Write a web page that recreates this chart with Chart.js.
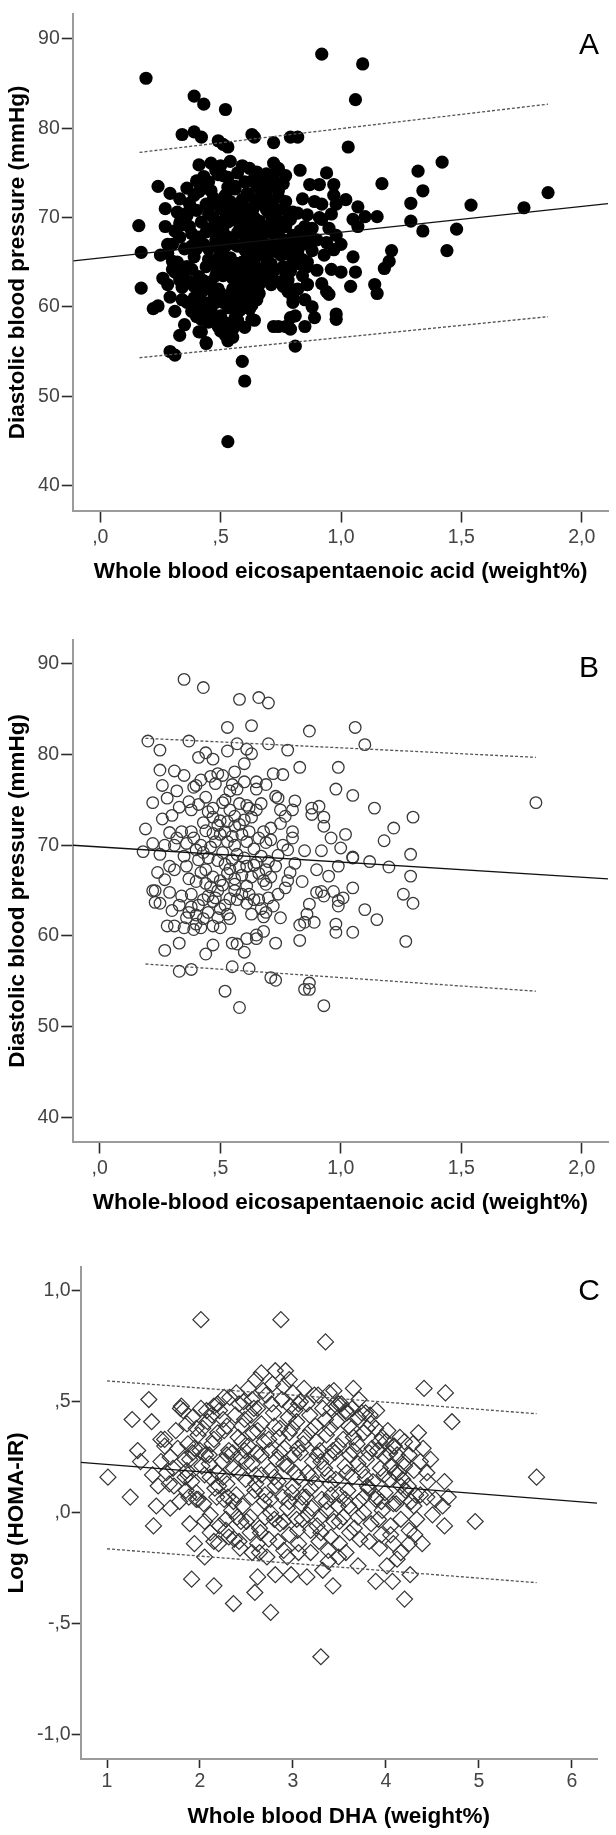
<!DOCTYPE html>
<html>
<head>
<meta charset="utf-8">
<script src="https://cdn.jsdelivr.net/npm/chart.js@4.4.1/dist/chart.umd.min.js"></script>
<style>
  html, body { margin: 0; padding: 0; background: #fff; }
  body { width: 616px; height: 1835px; position: relative; overflow: hidden; }
  canvas { position: absolute; left: 0; }
</style>
</head>
<body>
<canvas id="cA" width="616" height="600" style="top:0px;width:616px;height:600px"></canvas>
<canvas id="cB" width="616" height="600" style="top:626px;width:616px;height:600px"></canvas>
<canvas id="cC" width="616" height="581" style="top:1254px;width:616px;height:581px"></canvas>
<script>
// ---------------- DATA ----------------
// Panel A: whole blood EPA vs diastolic BP (filled circles)
const panelA_points = [
[0.19,85.6],[0.92,88.3],[1.09,87.2],[0.39,83.6],[0.43,82.7],[0.52,82.1],[1.06,83.2],[1.03,77.9],[0.34,79.3],[0.39,79.6],
[0.42,79.0],[0.49,78.6],[0.51,78.2],[0.53,77.9],[0.63,79.3],[0.64,79.0],[0.72,78.4],[0.79,79.0],[0.82,79.0],[1.42,76.2],
[1.32,75.2],[1.34,73.0],[1.29,71.6],[1.29,69.6],[1.34,68.5],[1.44,66.3],[1.48,68.7],[1.54,71.4],[1.76,71.1],[1.86,72.8],
[1.17,73.8],[1.15,70.1],[1.10,70.1],[1.07,71.2],[1.05,69.8],[1.07,69.0],[1.05,65.6],[1.06,63.9],[1.04,62.3],[1.14,62.5],
[1.15,61.5],[1.18,64.3],[1.20,65.1],[1.21,66.3],[1.00,63.9],[0.98,59.2],[0.98,58.6],[0.94,61.7],[0.95,61.4],[0.97,66.4],
[0.94,67.2],[0.96,64.2],[0.97,72.5],[0.91,73.7],[0.87,73.7],[0.97,73.7],[0.92,71.5],[0.91,70.0],[0.92,69.8],[0.96,70.4],
[0.98,71.5],[0.89,58.8],[0.85,57.8],[0.90,64.1],[0.86,62.5],[0.86,64.5],[0.84,65.3],[0.86,67.2],[0.87,68.2],[0.88,68.8],
[0.84,72.1],[0.83,75.3],[0.77,74.7],[0.72,76.1],[0.74,72.3],[0.71,73.5],[0.69,74.9],[0.65,75.1],[0.63,74.1],[0.59,75.8],
[0.61,72.7],[0.56,73.2],[0.54,76.3],[0.51,74.7],[0.48,75.3],[0.46,76.1],[0.41,75.9],[0.43,73.3],[0.40,74.1],[0.36,73.3],
[0.33,72.1],[0.29,72.7],[0.24,73.5],[0.36,70.2],[0.33,69.4],[0.27,69.0],[0.16,69.1],[0.17,66.1],[0.17,62.1],[0.25,65.8],
[0.28,67.0],[0.30,65.1],[0.31,63.9],[0.29,61.1],[0.31,59.5],[0.22,59.8],[0.24,60.1],[0.33,56.8],[0.29,55.0],[0.31,54.6],
[0.41,57.2],[0.44,55.9],[0.50,57.3],[0.53,56.2],[0.55,56.6],[0.55,58.2],[0.59,53.9],[0.60,51.7],[0.53,44.9],[0.60,57.7],
[0.63,58.6],[0.62,59.8],[0.59,61.5],[0.63,62.7],[0.66,62.9],[0.68,64.3],[0.69,64.7],[0.71,62.7],[0.72,62.9],[0.76,62.3],
[0.78,61.7],[0.80,61.1],[0.80,61.9],[0.72,57.8],[0.74,57.8],[0.77,57.8],[0.79,58.8],[0.79,57.5],[0.81,55.6],
[0.36,70.5],[0.38,68.2],[0.40,66.5],[0.38,64.2],[0.37,62.8],[0.39,61.0],[0.41,60.2],[0.40,58.9],[0.42,57.2],[0.44,56.0],
[0.43,59.5],[0.45,62.0],[0.44,64.5],[0.43,67.0],[0.42,69.5],[0.44,71.5],[0.46,73.0],[0.47,70.0],[0.48,67.5],[0.47,65.0],
[0.46,62.8],[0.48,60.5],[0.47,58.8],[0.50,59.0],[0.50,61.5],[0.51,63.5],[0.50,66.0],[0.51,68.5],[0.50,71.0],[0.52,72.5],
[0.49,74.8],[0.53,74.5],[0.54,71.8],[0.55,69.8],[0.53,67.8],[0.54,65.5],[0.55,63.2],[0.53,61.2],[0.56,60.0],[0.52,58.2],
[0.55,57.5],[0.57,58.5],[0.58,61.0],[0.57,62.5],[0.58,64.5],[0.57,66.8],[0.58,68.8],[0.57,70.8],[0.59,72.0],[0.56,73.5],
[0.60,74.0],[0.61,71.0],[0.62,69.2],[0.60,67.2],[0.61,65.5],[0.62,63.8],[0.60,62.5],[0.63,61.5],[0.62,59.8],[0.64,58.5],
[0.65,60.8],[0.66,62.5],[0.64,64.8],[0.65,66.5],[0.66,68.0],[0.64,70.0],[0.66,71.8],[0.65,73.5],[0.68,74.2],[0.69,72.5],
[0.70,70.5],[0.68,69.0],[0.69,67.0],[0.70,65.0],[0.68,63.5],[0.71,62.5],[0.72,64.0],[0.73,66.2],[0.72,68.2],[0.73,70.0],
[0.71,71.5],[0.74,73.0],[0.75,69.5],[0.76,67.5],[0.75,65.8],[0.77,63.8],[0.78,66.8],[0.79,69.8],[0.80,70.6],[0.81,66.5],
[0.79,64.0],[0.82,62.0],[0.80,60.5],[0.78,57.8],[0.81,59.0],[0.83,68.5],[0.84,67.0],[0.85,69.0],[0.86,65.0],[0.84,63.5],
[0.86,62.5],[0.82,70.5],[0.77,71.8],[0.76,73.8],[0.74,75.5],
[0.30,67.0],[0.32,65.0],[0.33,63.0],[0.34,62.2],[0.35,66.5],[0.34,69.2],[0.30,64.2],[0.28,66.0],[0.31,68.5],[0.36,60.5],
[0.35,58.0],[0.52,64.5],[0.56,67.0],[0.59,65.0],[0.63,67.0],[0.53,69.5],[0.49,68.0],[0.48,63.5],[0.60,69.8],[0.67,65.8],
[0.55,62.0],[0.57,64.0],[0.62,66.0],[0.45,66.5],[0.46,68.8],[0.52,66.8],[0.58,70.0],[0.61,68.0],[0.64,62.0],[0.51,60.5],
[0.49,65.5],
[0.40,70.8],[0.41,67.8],[0.39,65.6],[0.41,63.4],[0.42,61.6],[0.44,60.4],[0.43,62.9],[0.45,65.3],[0.44,68.4],[0.45,70.4],
[0.47,72.2],[0.46,71.4],[0.48,69.3],[0.49,66.7],[0.48,64.6],[0.49,62.0],[0.47,60.9],[0.50,64.3],[0.51,65.9],[0.50,67.3],
[0.52,69.9],[0.51,71.9],[0.53,73.4],[0.54,70.6],[0.55,67.2],[0.54,63.6],[0.56,61.7],[0.53,59.9],[0.55,60.8],[0.57,60.3],
[0.58,62.8],[0.56,64.9],[0.57,68.3],[0.58,71.3],[0.59,69.5],[0.60,66.4],[0.59,63.6],[0.61,61.3],[0.61,64.2],[0.62,67.4],
[0.63,70.6],[0.62,72.4],[0.64,71.2],[0.63,68.7],[0.64,66.2],[0.65,63.7],[0.66,61.5],[0.67,63.2],[0.67,67.3],[0.66,69.6],
[0.67,72.8],[0.69,70.9],[0.69,68.4],[0.70,66.2],[0.70,63.6],[0.71,64.8],[0.72,66.8],[0.71,69.4],[0.72,71.1],[0.73,73.9],
[0.74,70.8],[0.74,68.3],[0.75,67.0],[0.76,64.5],[0.75,62.8],[0.77,66.0],[0.77,69.0],[0.78,70.6],[0.78,63.0],[0.80,65.3],
[0.80,68.0],[0.82,67.7],[0.83,64.8],[0.82,66.2],[0.38,66.8],[0.37,69.0],[0.36,64.5],[0.39,62.3],[0.40,59.8],[0.42,58.6],
[0.45,58.3],[0.46,59.7],[0.49,57.8],[0.52,56.8],[0.58,59.6],[0.60,60.6],[0.63,60.2],[0.56,58.8],[0.43,74.6],[0.50,75.8],
[0.57,75.0],[0.62,75.5],[0.66,74.4],[0.70,73.8],[0.72,74.8],[0.45,74.0],[0.39,72.5],[0.41,72.9],[0.37,71.6],[0.35,64.0],
[0.33,67.8],[0.32,70.6],[0.27,71.0],[0.26,63.2],[0.28,62.5],[0.34,60.8],[0.38,59.5],[0.86,70.3],[0.88,66.3],[0.90,67.5],
[0.89,71.8],[0.93,65.8],[0.85,60.8],[0.88,60.0],[0.92,62.6],[0.95,68.8],[0.94,75.0],[0.98,68.0],[1.00,67.0],[1.02,72.0]
];
const panelA_fitX = [-0.112, 2.109];
const panelA_fitY = [65.16, 71.57];
const panelA_upperX = [0.163, 1.86];
const panelA_upperY = [77.3, 82.7];
const panelA_lowerX = [0.163, 1.86];
const panelA_lowerY = [54.3, 58.9];

// Panel B: whole-blood EPA vs diastolic BP (open circles)
const panelB_points = [
[0.35,88.3],[0.43,87.4],[0.58,86.1],[0.66,86.3],[0.70,85.7],[0.87,82.6],[1.06,83.0],[1.10,81.1],[0.20,81.5],[0.25,80.5],
[0.25,78.3],[0.41,79.7],[0.44,80.2],[0.47,79.5],[0.49,77.9],[0.53,80.4],[0.57,81.2],[0.60,79.0],[0.61,80.6],[0.63,80.1],
[0.56,78.1],[0.55,76.7],[0.57,76.2],[0.60,77.0],[0.65,77.0],[0.65,76.2],[0.70,81.2],[0.72,77.9],[0.76,77.8],[0.78,80.5],
[0.83,78.6],[0.74,75.2],[0.75,73.9],[0.81,74.9],[0.88,74.1],[0.91,74.3],[0.93,73.1],[0.93,72.1],[0.96,70.8],[0.92,69.4],
[0.88,73.4],[0.99,78.6],[0.98,76.2],[1.05,75.5],[1.14,74.1],[1.02,71.2],[1.00,69.7],[1.05,68.7],[1.05,68.6],[1.18,70.5],
[1.20,67.6],[1.29,69.0],[1.30,73.1],[1.29,66.6],[1.26,64.6],[1.30,63.6],[1.27,59.4],[1.15,61.8],[1.05,65.3],[1.05,60.4],
[1.01,64.2],[0.99,63.9],[0.99,63.3],[0.98,61.3],[0.98,60.4],[0.99,67.7],[0.92,64.9],[0.90,64.8],[0.93,64.4],[0.87,63.5],
[0.86,62.4],[0.89,61.5],[0.85,61.5],[0.83,61.2],[0.83,59.5],[0.87,54.8],[0.87,54.1],[0.85,54.1],[0.93,52.3],[0.73,59.2],
[0.71,55.4],[0.73,55.1],[0.60,58.2],[0.61,59.7],[0.55,59.2],[0.57,59.1],[0.55,56.6],[0.52,53.9],[0.58,52.1],[0.65,60.1],
[0.65,59.7],[0.68,60.5],[0.68,62.1],[0.69,62.6],[0.47,59.0],[0.47,61.1],[0.50,60.9],[0.54,61.9],[0.33,59.2],[0.33,56.1],
[0.38,56.3],[0.28,61.1],[0.31,61.1],[0.35,60.9],[0.39,60.7],[0.40,61.3],[0.42,60.9],[0.30,62.8],[0.25,63.6],[0.23,63.7],
[0.23,65.0],[0.22,65.0],[0.24,67.0],[0.19,71.8],[0.18,69.3],[0.22,74.7],[0.26,72.9],[0.30,73.3],[0.28,75.2],[0.32,76.0],
[0.35,77.7],[0.39,76.4],[0.40,76.6],[0.37,74.8],[0.38,73.9],[0.44,75.3],[0.45,73.7],[0.47,73.1],[0.51,74.7],[0.52,75.0],
[0.54,73.9],[0.56,73.2],[0.61,74.4],[0.62,74.1],[0.63,73.1],[0.65,73.9],[0.71,71.9],[0.71,70.6],[0.69,70.3],[0.80,71.5],
[0.80,70.8],[0.78,69.5],[0.81,68.0],[0.79,67.0],[0.78,66.1],[0.77,65.3],[0.74,64.6],[0.74,68.9],[0.73,67.7],[0.71,66.5],
[0.69,65.7],[0.68,66.1],[0.66,64.0],[0.64,64.0],[0.61,63.6],[0.59,64.6],[0.56,65.7],[0.54,64.1],[0.52,63.4],[0.50,63.0],
[0.47,63.8],[0.45,64.4],[0.43,64.0],[0.41,63.4],[0.38,63.2],[0.38,64.6],[0.37,62.6],[0.40,62.3],[0.34,64.4],[0.31,67.3],
[0.29,67.7],[0.27,70.0],[0.31,70.0],[0.32,70.8],[0.34,71.5],[0.38,71.5],[0.39,70.8],[0.42,70.0],[0.43,69.2],[0.41,68.4],
[0.36,67.7],[0.35,68.8],[0.47,71.3],[0.48,70.4],[0.50,71.2],[0.52,71.5],[0.53,70.4],[0.51,69.2],[0.49,68.3],[0.52,67.9],
[0.55,68.4],[0.56,70.0],[0.59,71.2],[0.61,70.4],[0.64,69.6],[0.66,70.8],[0.68,71.5],[0.65,68.1],[0.61,67.7],[0.59,66.7],
[0.56,66.3],[0.53,66.9],[0.50,66.1],[0.47,66.5],[0.44,67.3],[0.46,65.4],[0.49,65.0],[0.56,65.0],[0.61,65.5],[0.63,66.5],
[0.66,66.9],[0.69,67.3],[0.58,72.3],[0.56,72.1],[0.50,72.7],[0.47,74.1],[0.54,76.0],[0.51,77.7],[0.73,75.4],[0.80,73.9],
[1.81,74.7],
[0.42,67.0],[0.45,68.6],[0.46,69.8],[0.44,71.6],[0.49,72.2],[0.53,72.6],[0.55,71.0],[0.57,69.0],[0.54,67.4],[0.51,65.6],
[0.48,64.2],[0.44,65.8],[0.40,66.0],[0.37,66.3],[0.36,70.2],[0.40,69.5],[0.43,72.5],[0.41,74.5],[0.48,76.8],[0.58,74.6],
[0.60,72.8],[0.62,71.5],[0.60,68.6],[0.58,67.6],[0.57,64.0],[0.53,62.4],[0.49,62.0],[0.45,62.6],[0.43,61.9],[0.36,62.0],
[0.33,63.4],[0.29,64.8],[0.27,66.2],[0.25,69.0],[0.22,70.2],[0.29,71.4],[0.33,74.2],[0.63,62.4],[0.67,63.0],[0.70,64.2],
[0.72,63.3],[0.75,62.0],[0.76,70.0],[0.75,72.4],[0.67,68.8],[0.70,68.2],[0.64,67.8],[0.62,64.6],[0.67,74.6],[0.69,76.7],
[0.46,77.6],[0.42,77.2],[0.26,76.6],[0.31,78.2],[0.37,81.5],[0.53,83.0],[0.63,83.2],[0.77,73.2],[0.85,69.4],[0.84,66.0],
[0.90,67.3],[0.95,66.6],[0.97,64.9],[1.10,62.9],[1.12,68.2],[1.22,71.9],[0.27,58.4],[0.44,58.0],[0.62,56.4]
];
const panelB_fitX = [-0.112, 2.109];
const panelB_fitY = [70.0, 66.3];
const panelB_upperX = [0.19, 1.81];
const panelB_upperY = [81.8, 79.7];
const panelB_lowerX = [0.19, 1.81];
const panelB_lowerY = [56.9, 53.9];

// Panel C: whole blood DHA vs log(HOMA-IR) (open diamonds)
const panelC_points = [
[2.01,0.87],[2.87,0.87],[3.35,0.77],[3.30,-0.65],[2.76,-0.45],[2.36,-0.41],[2.59,-0.36],[2.62,-0.29],[2.15,-0.33],[1.91,-0.30],
[4.20,-0.39],[3.43,-0.33],[4.26,-0.28],[4.07,-0.31],[3.89,-0.31],[5.62,0.16],[4.96,-0.04],[4.41,0.56],[4.64,0.54],[4.71,0.41],
[3.65,0.56],[1.01,0.16],[1.25,0.07],[1.27,0.42],[1.33,0.28],[1.36,0.23],[1.45,0.51],[1.48,0.41],[1.50,-0.06],[1.53,0.03],
[1.49,0.17],[1.58,0.33],[1.62,0.30],[1.68,0.02],[1.67,0.13],[1.71,0.20],[1.80,0.48],[1.82,0.46],[1.86,0.40],[1.87,0.31],
[1.84,0.24],[1.84,0.16],[1.88,0.07],[1.89,-0.05],[1.94,-0.14],[1.96,0.38],[1.96,0.06],[2.05,-0.20],[2.15,-0.13],[2.11,-0.09],
[2.01,0.47],[2.07,0.46],[2.13,0.44],[2.19,0.49],[2.26,0.52],[2.39,0.54],[2.56,0.51],[2.60,0.60],[2.66,0.63],[2.68,0.55],
[2.81,0.64],[2.92,0.64],[2.96,0.60],[3.00,0.54],[3.06,0.49],[3.23,0.53],[3.39,0.54],[3.49,0.49],[3.57,0.46],[3.74,0.45],
[3.78,0.45],[3.89,0.38],[3.93,0.32],[4.08,0.30],[4.20,0.32],[4.29,0.31],[4.37,0.23],[4.44,0.18],[4.37,0.08],[4.44,0.07],
[4.50,-0.01],[4.61,0.03],[4.63,0.14],[4.67,0.07],[4.63,-0.06],[4.39,-0.14],[4.31,-0.10],[4.16,-0.18],[4.12,-0.21],[4.25,-0.14],
[4.08,-0.14],[4.01,-0.24],[3.93,-0.16],[3.82,-0.13],[3.70,-0.24],[3.57,-0.18],[3.49,-0.20],[3.38,-0.22],[3.32,-0.26],[3.19,-0.18],
[3.15,-0.29],[3.06,-0.18],[2.98,-0.28],[2.94,-0.20],[2.81,-0.28],[2.72,-0.20],[2.64,-0.18],[2.56,-0.18],[2.43,-0.16],[2.37,-0.12],
[2.28,-0.08],[4.16,-0.03],[4.08,0.04],[4.16,0.12],[4.10,0.18],[4.27,0.05],[4.33,-0.03],
[2.32,0.52],[2.47,0.50],[2.71,0.53],[2.88,0.51],[3.08,0.50],[3.27,0.53],[3.52,0.49],[3.71,0.51],
[2.21,0.46],[2.38,0.44],[2.62,0.47],[2.79,0.45],[3.02,0.46],[3.18,0.44],[3.41,0.47],[3.58,0.45],[3.83,0.44],
[2.08,0.41],[2.29,0.39],[2.48,0.42],[2.66,0.40],[2.86,0.38],[3.04,0.41],[3.24,0.39],[3.47,0.41],[3.63,0.38],[3.84,0.40],
[1.98,0.35],[2.19,0.36],[2.41,0.34],[2.57,0.36],[2.74,0.33],[2.96,0.36],[3.13,0.34],[3.36,0.35],[3.54,0.33],[3.76,0.36],[3.96,0.34],
[1.94,0.29],[2.13,0.31],[2.31,0.28],[2.52,0.30],[2.69,0.32],[2.91,0.29],[3.11,0.31],[3.29,0.28],[3.49,0.30],[3.69,0.31],[3.91,0.28],[4.09,0.30],
[1.89,0.24],[2.06,0.26],[2.24,0.23],[2.44,0.25],[2.61,0.27],[2.82,0.24],[3.01,0.26],[3.21,0.23],[3.39,0.25],[3.61,0.26],[3.79,0.24],[3.99,0.25],[4.19,0.23],
[1.86,0.19],[2.02,0.21],[2.19,0.18],[2.36,0.20],[2.56,0.22],[2.76,0.19],[2.94,0.21],[3.16,0.18],[3.34,0.20],[3.56,0.21],[3.74,0.19],[3.94,0.20],[4.14,0.18],
[1.91,0.14],[2.11,0.16],[2.29,0.13],[2.49,0.15],[2.66,0.17],[2.84,0.14],[3.06,0.16],[3.24,0.13],[3.46,0.15],[3.64,0.16],[3.86,0.14],[4.04,0.15],[4.24,0.12],
[1.96,0.09],[2.16,0.11],[2.39,0.08],[2.59,0.10],[2.81,0.12],[2.99,0.09],[3.19,0.11],[3.41,0.08],[3.59,0.10],[3.81,0.11],[3.99,0.09],[4.21,0.10],
[2.04,0.04],[2.26,0.06],[2.46,0.03],[2.69,0.05],[2.89,0.07],[3.09,0.04],[3.31,0.06],[3.49,0.03],[3.71,0.05],[3.89,0.06],[4.11,0.04],
[2.11,-0.01],[2.34,0.01],[2.54,-0.02],[2.76,0.00],[2.94,0.02],[3.16,-0.01],[3.36,0.01],[3.54,-0.02],[3.76,0.00],[3.96,0.01],
[2.21,-0.06],[2.44,-0.04],[2.64,-0.07],[2.86,-0.05],[3.04,-0.03],[3.26,-0.06],[3.44,-0.04],[3.66,-0.07],[3.84,-0.05],
[2.31,-0.11],[2.54,-0.09],[2.74,-0.12],[2.96,-0.10],[3.19,-0.08],[3.41,-0.11],[3.61,-0.09],
[2.25,0.42],[2.55,0.44],[2.95,0.43],[3.35,0.42],[3.70,0.43],[2.15,0.33],[2.45,0.32],[2.85,0.34],[3.25,0.32],[3.65,0.34],
[4.00,0.32],[2.00,0.28],[2.35,0.27],[2.75,0.28],[3.05,0.29],[3.45,0.27],[3.85,0.29],[2.10,0.22],[2.50,0.23],[2.90,0.22],
[3.30,0.23],[3.70,0.22],[4.05,0.21],[2.20,0.12],[2.60,0.13],[3.00,0.12],[3.40,0.13],[3.80,0.12],[2.30,0.07],[2.70,0.08],
[3.10,0.07],[3.50,0.08],[3.90,0.07],[2.40,-0.02],[2.80,-0.03],[3.20,0.02],[3.60,0.03],[2.65,-0.09],[3.05,-0.08],[3.30,-0.09],
[2.15,0.48],[2.42,0.49],[2.58,0.47],[2.77,0.49],[2.97,0.48],[3.15,0.49],[3.32,0.47],[3.47,0.48],[3.64,0.47],[3.90,0.46],
[2.52,0.56],[2.78,0.58],[3.12,0.56],[3.44,0.55],[2.90,0.57],
[2.03,0.38],[2.26,0.37],[2.45,0.39],[2.62,0.37],[2.80,0.39],[2.99,0.38],[3.19,0.37],[3.40,0.38],[3.60,0.39],[3.80,0.38],[4.02,0.37],[4.15,0.34],
[1.92,0.27],[2.10,0.26],[2.29,0.26],[2.48,0.28],[2.66,0.26],[2.86,0.27],[3.08,0.27],[3.26,0.26],[3.43,0.28],[3.65,0.28],[3.82,0.27],[4.04,0.27],[4.25,0.26],
[1.87,0.17],[2.05,0.17],[2.25,0.16],[2.42,0.18],[2.60,0.17],[2.80,0.16],[3.02,0.18],[3.20,0.16],[3.38,0.17],[3.58,0.18],[3.78,0.16],[3.98,0.17],[4.18,0.15],[4.30,0.19],
[1.98,0.06],[2.18,0.07],[2.36,0.05],[2.56,0.07],[2.76,0.06],[2.96,0.05],[3.14,0.07],[3.36,0.05],[3.56,0.06],[3.76,0.07],[3.95,0.05],[4.15,0.07],[4.32,0.08],
[2.05,-0.04],[2.28,-0.03],[2.50,-0.04],[2.70,-0.02],[2.90,-0.04],[3.10,-0.03],[3.30,-0.02],[3.50,-0.04],[3.70,-0.02],[3.92,-0.03],[4.05,-0.06],
[2.20,-0.14],[2.42,-0.13],[2.62,-0.14],[2.84,-0.13],[3.06,-0.14],[3.28,-0.13],[3.50,-0.14],[3.72,-0.12],[3.95,-0.10],[2.90,-0.17],[3.38,-0.17],
[1.62,0.33],[1.68,0.25],[1.72,0.12],[1.76,0.29],[1.78,0.05],[1.64,0.18],[1.58,0.23],[1.55,0.12],[1.74,0.37],[1.92,0.43],[1.79,0.47],[1.85,0.10],
[4.40,0.29],[4.45,0.14],[4.30,0.03],[4.48,0.24],[4.35,0.36],[4.53,0.06],[4.20,0.21],[4.25,-0.08],[4.12,0.26],[4.05,-0.10]
];
const panelC_fitX = [0.717, 6.27];
const panelC_fitY = [0.227, 0.043];
const panelC_upperX = [1.0, 5.62];
const panelC_upperY = [0.594, 0.446];
const panelC_lowerX = [1.0, 5.62];
const panelC_lowerY = [-0.163, -0.316];

// Tick values and labels
const abXTicks = [0, 0.5, 1.0, 1.5, 2.0];
const abXTickLabels = [',0', ',5', '1,0', '1,5', '2,0'];
const abYTicks = [40, 50, 60, 70, 80, 90];
const abYTickLabels = ['40', '50', '60', '70', '80', '90'];
const cXTicks = [1, 2, 3, 4, 5, 6];
const cXTickLabels = ['1', '2', '3', '4', '5', '6'];
const cYTicks = [-1.0, -0.5, 0, 0.5, 1.0];
const cYTickLabels = ['-1,0', '-,5', ',0', ',5', '1,0'];

// ---------------- RENDER ----------------
const FONT = '"Liberation Sans", Arial, Helvetica, sans-serif';
const toXY = (xs, ys) => xs.map((x, i) => ({x: x, y: ys[i]}));
const toPts = (arr) => arr.map(p => ({x: p[0], y: p[1]}));

const letterPlugin = {
  id: 'panelLetter',
  afterDraw(chart, args, opts) {
    const ctx = chart.ctx, a = chart.chartArea;
    ctx.save();
    ctx.font = '30px ' + FONT;
    ctx.fillStyle = '#000';
    ctx.textAlign = 'center';
    ctx.textBaseline = 'middle';
    ctx.fillText(opts.text, a.right - opts.dx, a.top + opts.dy);
    ctx.restore();
  }
};

function makeChart(id, cfg) {
  const lineDs = (xs, ys, dashed) => ({
    data: toXY(xs, ys), showLine: true, pointRadius: 0, pointHoverRadius: 0,
    borderColor: dashed ? '#555' : '#111', borderWidth: 1.3,
    borderDash: dashed ? [3, 2] : [], fill: false, tension: 0
  });
  const datasets = [
    lineDs(cfg.fitX, cfg.fitY, false),
    lineDs(cfg.upX, cfg.upY, true),
    lineDs(cfg.loX, cfg.loY, true),
    Object.assign({ data: toPts(cfg.points), showLine: false }, cfg.pointStyle)
  ];
  const axisCommon = (ticks, labels, afterFit, tickLen, pad, title, titlePad) => ({
    type: 'linear',
    afterBuildTicks: (s) => { s.ticks = ticks.map(v => ({value: v})); },
    afterFit: afterFit,
    grid: { drawOnChartArea: false, drawTicks: true, tickLength: tickLen, tickColor: '#2b2b2b', tickWidth: 1.6 },
    border: { display: true, color: '#9b9b9b', width: 2 },
    ticks: {
      autoSkip: false, maxRotation: 0, padding: pad, color: '#444',
      font: { family: FONT, size: 19.5 },
      callback: (v, i) => labels[i]
    },
    title: { display: true, text: title, color: '#000', padding: titlePad,
      font: { family: FONT, size: 22.5, weight: 'bold' } }
  });
  const xs = axisCommon(cfg.xTicks, cfg.xLabels, s => { s.height = cfg.xH; }, cfg.tl, cfg.xPad, cfg.xTitle, {top: 0, bottom: cfg.xTitlePad});
  xs.min = cfg.xMin; xs.max = cfg.xMax; xs.position = 'bottom';
  const ys = axisCommon(cfg.yTicks, cfg.yLabels, s => { s.width = cfg.yW; }, cfg.tl, cfg.yPad, cfg.yTitle, {top: cfg.yTitlePad, bottom: 0});
  ys.min = cfg.yMin; ys.max = cfg.yMax; ys.position = 'left';
  return new Chart(document.getElementById(id), {
    type: 'scatter',
    data: { datasets: datasets },
    options: {
      responsive: false, animation: false, devicePixelRatio: 1,
      layout: { padding: cfg.padding },
      plugins: { legend: { display: false }, tooltip: { enabled: false },
        panelLetter: cfg.letter },
      scales: { x: xs, y: ys }
    },
    plugins: [letterPlugin]
  });
}

makeChart('cA', {
  points: panelA_points, fitX: panelA_fitX, fitY: panelA_fitY,
  upX: panelA_upperX, upY: panelA_upperY, loX: panelA_lowerX, loY: panelA_lowerY,
  pointStyle: { pointStyle: 'circle', pointRadius: 6.6, pointHoverRadius: 6.6,
    pointBackgroundColor: '#000', pointBorderColor: '#000', pointBorderWidth: 0 },
  xTicks: abXTicks, xLabels: abXTickLabels, yTicks: abYTicks, yLabels: abYTickLabels,
  xMin: -0.112, xMax: 2.109, yMin: 37.14, yMax: 92.83,
  xH: 89, yW: 73.3, tl: 11.5, xPad: 3, yPad: 2,
  xTitle: 'Whole blood eicosapentaenoic acid (weight%)', yTitle: 'Diastolic blood pressure (mmHg)',
  xTitlePad: 14.8, yTitlePad: 4.5,
  padding: { top: 5, right: 8, left: 0, bottom: 0 },
  letter: { text: 'A', dx: 19, dy: 32.5 }
});

makeChart('cB', {
  points: panelB_points, fitX: panelB_fitX, fitY: panelB_fitY,
  upX: panelB_upperX, upY: panelB_upperY, loX: panelB_lowerX, loY: panelB_lowerY,
  pointStyle: { pointStyle: 'circle', pointRadius: 5.8, pointHoverRadius: 5.8,
    pointBackgroundColor: 'rgba(0,0,0,0)', pointBorderColor: '#3a3a3a', pointBorderWidth: 1.3 },
  xTicks: abXTicks, xLabels: abXTickLabels, yTicks: abYTicks, yLabels: abYTickLabels,
  xMin: -0.112, xMax: 2.109, yMin: 37.26, yMax: 92.68,
  xH: 84, yW: 72.7, tl: 11.5, xPad: 3, yPad: 2,
  xTitle: 'Whole-blood eicosapentaenoic acid (weight%)', yTitle: 'Diastolic blood pressure (mmHg)',
  xTitlePad: 9.5, yTitlePad: 4.5,
  padding: { top: 5, right: 8, left: 0, bottom: 0 },
  letter: { text: 'B', dx: 19, dy: 29 }
});

makeChart('cC', {
  points: panelC_points, fitX: panelC_fitX, fitY: panelC_fitY,
  upX: panelC_upperX, upY: panelC_upperY, loX: panelC_lowerX, loY: panelC_lowerY,
  pointStyle: { pointStyle: 'rectRot', pointRadius: 8, pointHoverRadius: 8,
    pointBackgroundColor: 'rgba(0,0,0,0)', pointBorderColor: '#333', pointBorderWidth: 1.2 },
  xTicks: cXTicks, xLabels: cXTickLabels, yTicks: cYTicks, yLabels: cYTickLabels,
  xMin: 0.717, xMax: 6.27, yMin: -1.111, yMax: 1.109,
  xH: 76, yW: 80.7, tl: 9, xPad: 2.2, yPad: 1,
  xTitle: 'Whole blood DHA (weight%)', yTitle: 'Log (HOMA-IR)',
  xTitlePad: 4.5, yTitlePad: 3,
  padding: { top: 5.5, right: 19, left: 0, bottom: 0 },
  letter: { text: 'C', dx: 8, dy: 25.5 }
});
</script>
</body>
</html>
